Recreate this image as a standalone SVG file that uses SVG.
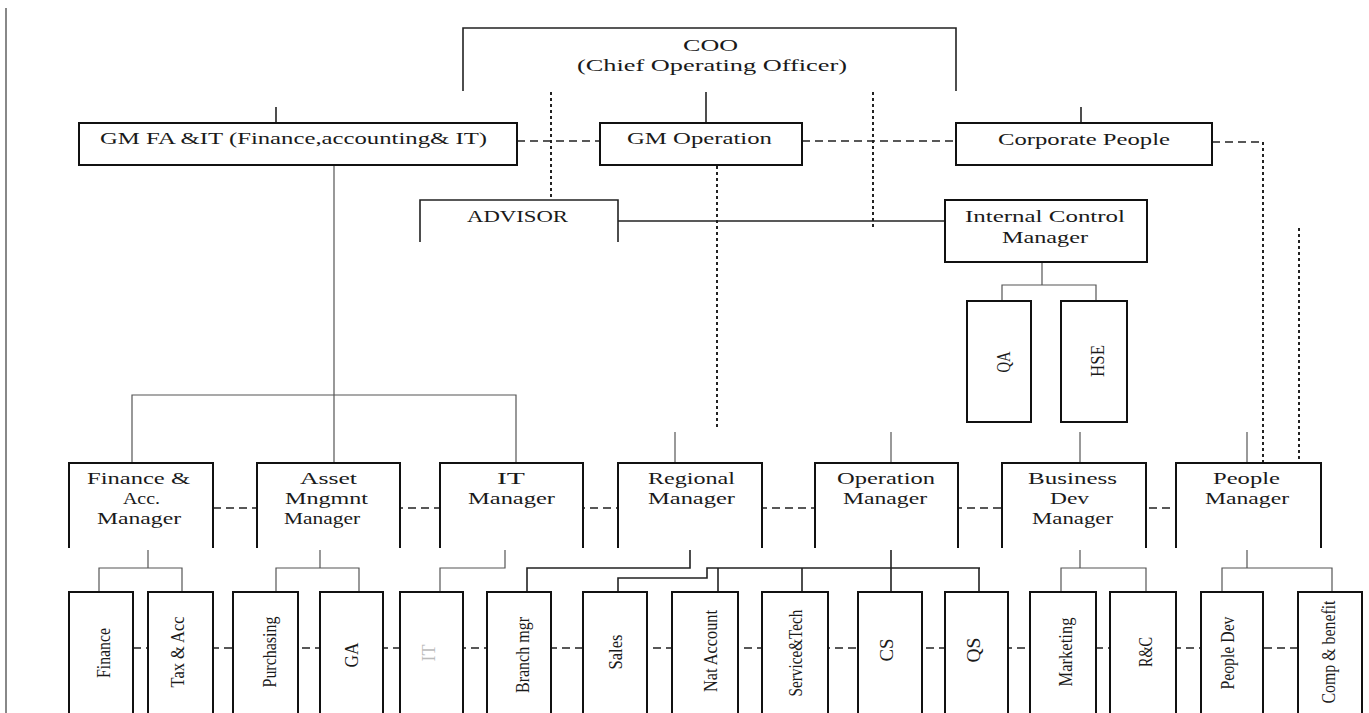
<svg xmlns="http://www.w3.org/2000/svg" width="1369" height="713" viewBox="0 0 1369 713">
<style>
.box{fill:#fff;stroke:#111;stroke-width:2}
.open{fill:#fff;stroke:#111;stroke-width:2}
.ln{fill:none;stroke:#222;stroke-width:1.6}
.thin{fill:none;stroke:#555;stroke-width:1.2}
.dash{fill:none;stroke:#222;stroke-width:1.6;stroke-dasharray:8 5}
.dot{fill:none;stroke:#222;stroke-width:2;stroke-dasharray:3 3}
text{font-family:"Liberation Serif","Times New Roman",serif;fill:#1a1a1a;font-size:16px}
.r{font-size:19px;text-anchor:middle;dominant-baseline:central}
</style>
<rect width="1369" height="713" fill="#fff"/>
<line x1="6" y1="8" x2="6" y2="713" stroke="#888" stroke-width="2"/>

<g id="connectors">
  <path class="ln" d="M463 91V28H956V91"/>
  <line class="ln" x1="706" y1="92" x2="706" y2="123"/>
  <line class="ln" x1="276" y1="107" x2="276" y2="123"/>
  <line class="ln" x1="1081" y1="107" x2="1081" y2="123"/>
  <line class="dash" x1="517" y1="141" x2="600" y2="141"/>
  <line class="dash" x1="802" y1="141" x2="956" y2="141"/>
  <path class="dash" d="M1212 142H1263"/>
  <line class="dot" x1="1263" y1="142" x2="1263" y2="463"/>
  <line class="dot" x1="1299" y1="228" x2="1299" y2="463"/>
  <line class="dot" x1="551" y1="92" x2="551" y2="200"/>
  <line class="dot" x1="873" y1="92" x2="873" y2="228"/>
  <line class="dot" x1="717" y1="166" x2="717" y2="430"/>
  <line class="ln" x1="618" y1="221" x2="945" y2="221"/>
  <path class="thin" d="M1042 262V285M1002 302V285H1096V302"/>
  <path class="thin" d="M334 165V463M132 463V395H516V463"/>
  <line class="thin" x1="675" y1="432" x2="675" y2="463"/>
  <line class="thin" x1="891" y1="432" x2="891" y2="463"/>
  <line class="thin" x1="1080" y1="432" x2="1080" y2="463"/>
  <line class="thin" x1="1247" y1="432" x2="1247" y2="463"/>
  <line class="dash" x1="213" y1="508" x2="1176" y2="508"/>
  <path class="thin" d="M148 550V568M99 592V568H182V592"/>
  <path class="thin" d="M320 550V568M276 592V568H359V592"/>
  <path class="thin" d="M505 550V568H440V592"/>
  <path class="ln" d="M690 550V568H527V592"/>
  <path class="ln" d="M891 550V568M618 592V578H707V568H980M718 568V592M802 568V592M891 568V592M979 568V592"/>
  <path class="thin" d="M1080 550V568M1061 592V568H1146V592"/>
  <path class="thin" d="M1247 550V568M1222 592V568H1332V592"/>
  <line class="dash" x1="133" y1="648" x2="1298" y2="648"/>
</g>

<g id="coo">
  <text x="683" y="51" textLength="55" lengthAdjust="spacingAndGlyphs" font-size="17">COO</text>
  <text x="577" y="71" textLength="270" lengthAdjust="spacingAndGlyphs" font-size="17">(Chief Operating Officer)</text>
</g>
<g id="gmfa">
  <rect class="box" x="79" y="123" width="438" height="42"/>
  <text x="100" y="144" textLength="387" lengthAdjust="spacingAndGlyphs">GM FA &amp;IT (Finance,accounting&amp; IT)</text>
</g>
<g id="gmop">
  <rect class="box" x="600" y="123" width="202" height="42"/>
  <text x="627" y="144" textLength="145" lengthAdjust="spacingAndGlyphs">GM Operation</text>
</g>
<g id="corp">
  <rect class="box" x="956" y="123" width="256" height="42"/>
  <text x="998" y="145" textLength="172" lengthAdjust="spacingAndGlyphs">Corporate People</text>
</g>
<g id="advisor">
  <path class="ln" stroke-width="2" d="M420 242V200H618V242"/>
  <text x="467" y="222" textLength="101" lengthAdjust="spacingAndGlyphs">ADVISOR</text>
</g>
<g id="icm">
  <rect class="box" x="945" y="200" width="202" height="62"/>
  <text x="965" y="222" textLength="160" lengthAdjust="spacingAndGlyphs">Internal Control</text>
  <text x="1002" y="243" textLength="86" lengthAdjust="spacingAndGlyphs">Manager</text>
</g>
<g id="qa">
  <rect class="box" x="967" y="301" width="64" height="121"/>
  <text class="r" transform="translate(1003 362) rotate(-90)" textLength="21" lengthAdjust="spacingAndGlyphs">QA</text>
</g>
<g id="hse">
  <rect class="box" x="1061" y="301" width="66" height="121"/>
  <text class="r" transform="translate(1097 361) rotate(-90)" textLength="32" lengthAdjust="spacingAndGlyphs">HSE</text>
</g>

<g id="finmgr">
  <path class="open" d="M69 548V463H213V548"/>
  <text x="87" y="484" textLength="103" lengthAdjust="spacingAndGlyphs">Finance &amp;</text>
  <text x="123" y="504" textLength="37" lengthAdjust="spacingAndGlyphs">Acc.</text>
  <text x="97" y="524" textLength="84" lengthAdjust="spacingAndGlyphs">Manager</text>
</g>
<g id="assetmgr">
  <path class="open" d="M257 548V463H400V548"/>
  <text x="300" y="484" textLength="57" lengthAdjust="spacingAndGlyphs">Asset</text>
  <text x="285" y="504" textLength="83" lengthAdjust="spacingAndGlyphs">Mngmnt</text>
  <text x="284" y="524" textLength="76" lengthAdjust="spacingAndGlyphs">Manager</text>
</g>
<g id="itmgr">
  <path class="open" d="M440 548V463H583V548"/>
  <text x="497" y="484" textLength="28" lengthAdjust="spacingAndGlyphs">IT</text>
  <text x="468" y="504" textLength="87" lengthAdjust="spacingAndGlyphs">Manager</text>
</g>
<g id="regmgr">
  <path class="open" d="M618 548V463H762V548"/>
  <text x="648" y="484" textLength="87" lengthAdjust="spacingAndGlyphs">Regional</text>
  <text x="648" y="504" textLength="87" lengthAdjust="spacingAndGlyphs">Manager</text>
</g>
<g id="opmgr">
  <path class="open" d="M815 548V463H958V548"/>
  <text x="837" y="484" textLength="98" lengthAdjust="spacingAndGlyphs">Operation</text>
  <text x="843" y="504" textLength="84" lengthAdjust="spacingAndGlyphs">Manager</text>
</g>
<g id="bizmgr">
  <path class="open" d="M1002 548V463H1146V548"/>
  <text x="1028" y="484" textLength="89" lengthAdjust="spacingAndGlyphs">Business</text>
  <text x="1050" y="504" textLength="39" lengthAdjust="spacingAndGlyphs">Dev</text>
  <text x="1032" y="524" textLength="81" lengthAdjust="spacingAndGlyphs">Manager</text>
</g>
<g id="peoplemgr">
  <path class="open" d="M1176 548V463H1321V548"/>
  <text x="1213" y="484" textLength="67" lengthAdjust="spacingAndGlyphs">People</text>
  <text x="1205" y="504" textLength="84" lengthAdjust="spacingAndGlyphs">Manager</text>
</g>

<g id="finance"><rect class="box" x="69" y="592" width="64" height="130"/>
  <text class="r" transform="translate(103 653) rotate(-90)" textLength="50" lengthAdjust="spacingAndGlyphs">Finance</text></g>
<g id="tax"><rect class="box" x="148" y="592" width="65" height="130"/>
  <text class="r" transform="translate(177 652) rotate(-90)" textLength="71" lengthAdjust="spacingAndGlyphs">Tax &amp; Acc</text></g>
<g id="purchasing"><rect class="box" x="233" y="592" width="65" height="130"/>
  <text class="r" transform="translate(269 652) rotate(-90)" textLength="71" lengthAdjust="spacingAndGlyphs">Purchasing</text></g>
<g id="ga"><rect class="box" x="320" y="592" width="63" height="130"/>
  <text class="r" transform="translate(351 655) rotate(-90)" textLength="25" lengthAdjust="spacingAndGlyphs">GA</text></g>
<g id="it"><rect class="box" x="400" y="592" width="63" height="130"/>
  <text class="r" transform="translate(428 653) rotate(-90)" textLength="17" lengthAdjust="spacingAndGlyphs" style="fill:#bbb">IT</text></g>
<g id="branch"><rect class="box" x="487" y="592" width="64" height="130"/>
  <text class="r" transform="translate(522 655) rotate(-90)" textLength="76" lengthAdjust="spacingAndGlyphs">Branch mgr</text></g>
<g id="sales"><rect class="box" x="583" y="592" width="64" height="130"/>
  <text class="r" transform="translate(615 652) rotate(-90)" textLength="35" lengthAdjust="spacingAndGlyphs">Sales</text></g>
<g id="nat"><rect class="box" x="672" y="592" width="66" height="130"/>
  <text class="r" transform="translate(710 651) rotate(-90)" textLength="82" lengthAdjust="spacingAndGlyphs">Nat Account</text></g>
<g id="service"><rect class="box" x="762" y="592" width="66" height="130"/>
  <text class="r" transform="translate(795 653) rotate(-90)" textLength="87" lengthAdjust="spacingAndGlyphs">Service&amp;Tech</text></g>
<g id="cs"><rect class="box" x="858" y="592" width="64" height="130"/>
  <text class="r" transform="translate(886 650) rotate(-90)" textLength="23" lengthAdjust="spacingAndGlyphs">CS</text></g>
<g id="qs"><rect class="box" x="945" y="592" width="63" height="130"/>
  <text class="r" transform="translate(973 650) rotate(-90)" textLength="25" lengthAdjust="spacingAndGlyphs">QS</text></g>
<g id="marketing"><rect class="box" x="1030" y="592" width="66" height="130"/>
  <text class="r" transform="translate(1065 652) rotate(-90)" textLength="69" lengthAdjust="spacingAndGlyphs">Marketing</text></g>
<g id="rc"><rect class="box" x="1110" y="592" width="66" height="130"/>
  <text class="r" transform="translate(1145 652) rotate(-90)" textLength="30" lengthAdjust="spacingAndGlyphs">R&amp;C</text></g>
<g id="peopledev"><rect class="box" x="1201" y="592" width="62" height="130"/>
  <text class="r" transform="translate(1227 653) rotate(-90)" textLength="73" lengthAdjust="spacingAndGlyphs">People Dev</text></g>
<g id="comp"><rect class="box" x="1298" y="592" width="64" height="130"/>
  <text class="r" transform="translate(1328 652) rotate(-90)" textLength="103" lengthAdjust="spacingAndGlyphs">Comp &amp; benefit</text></g>
</svg>
